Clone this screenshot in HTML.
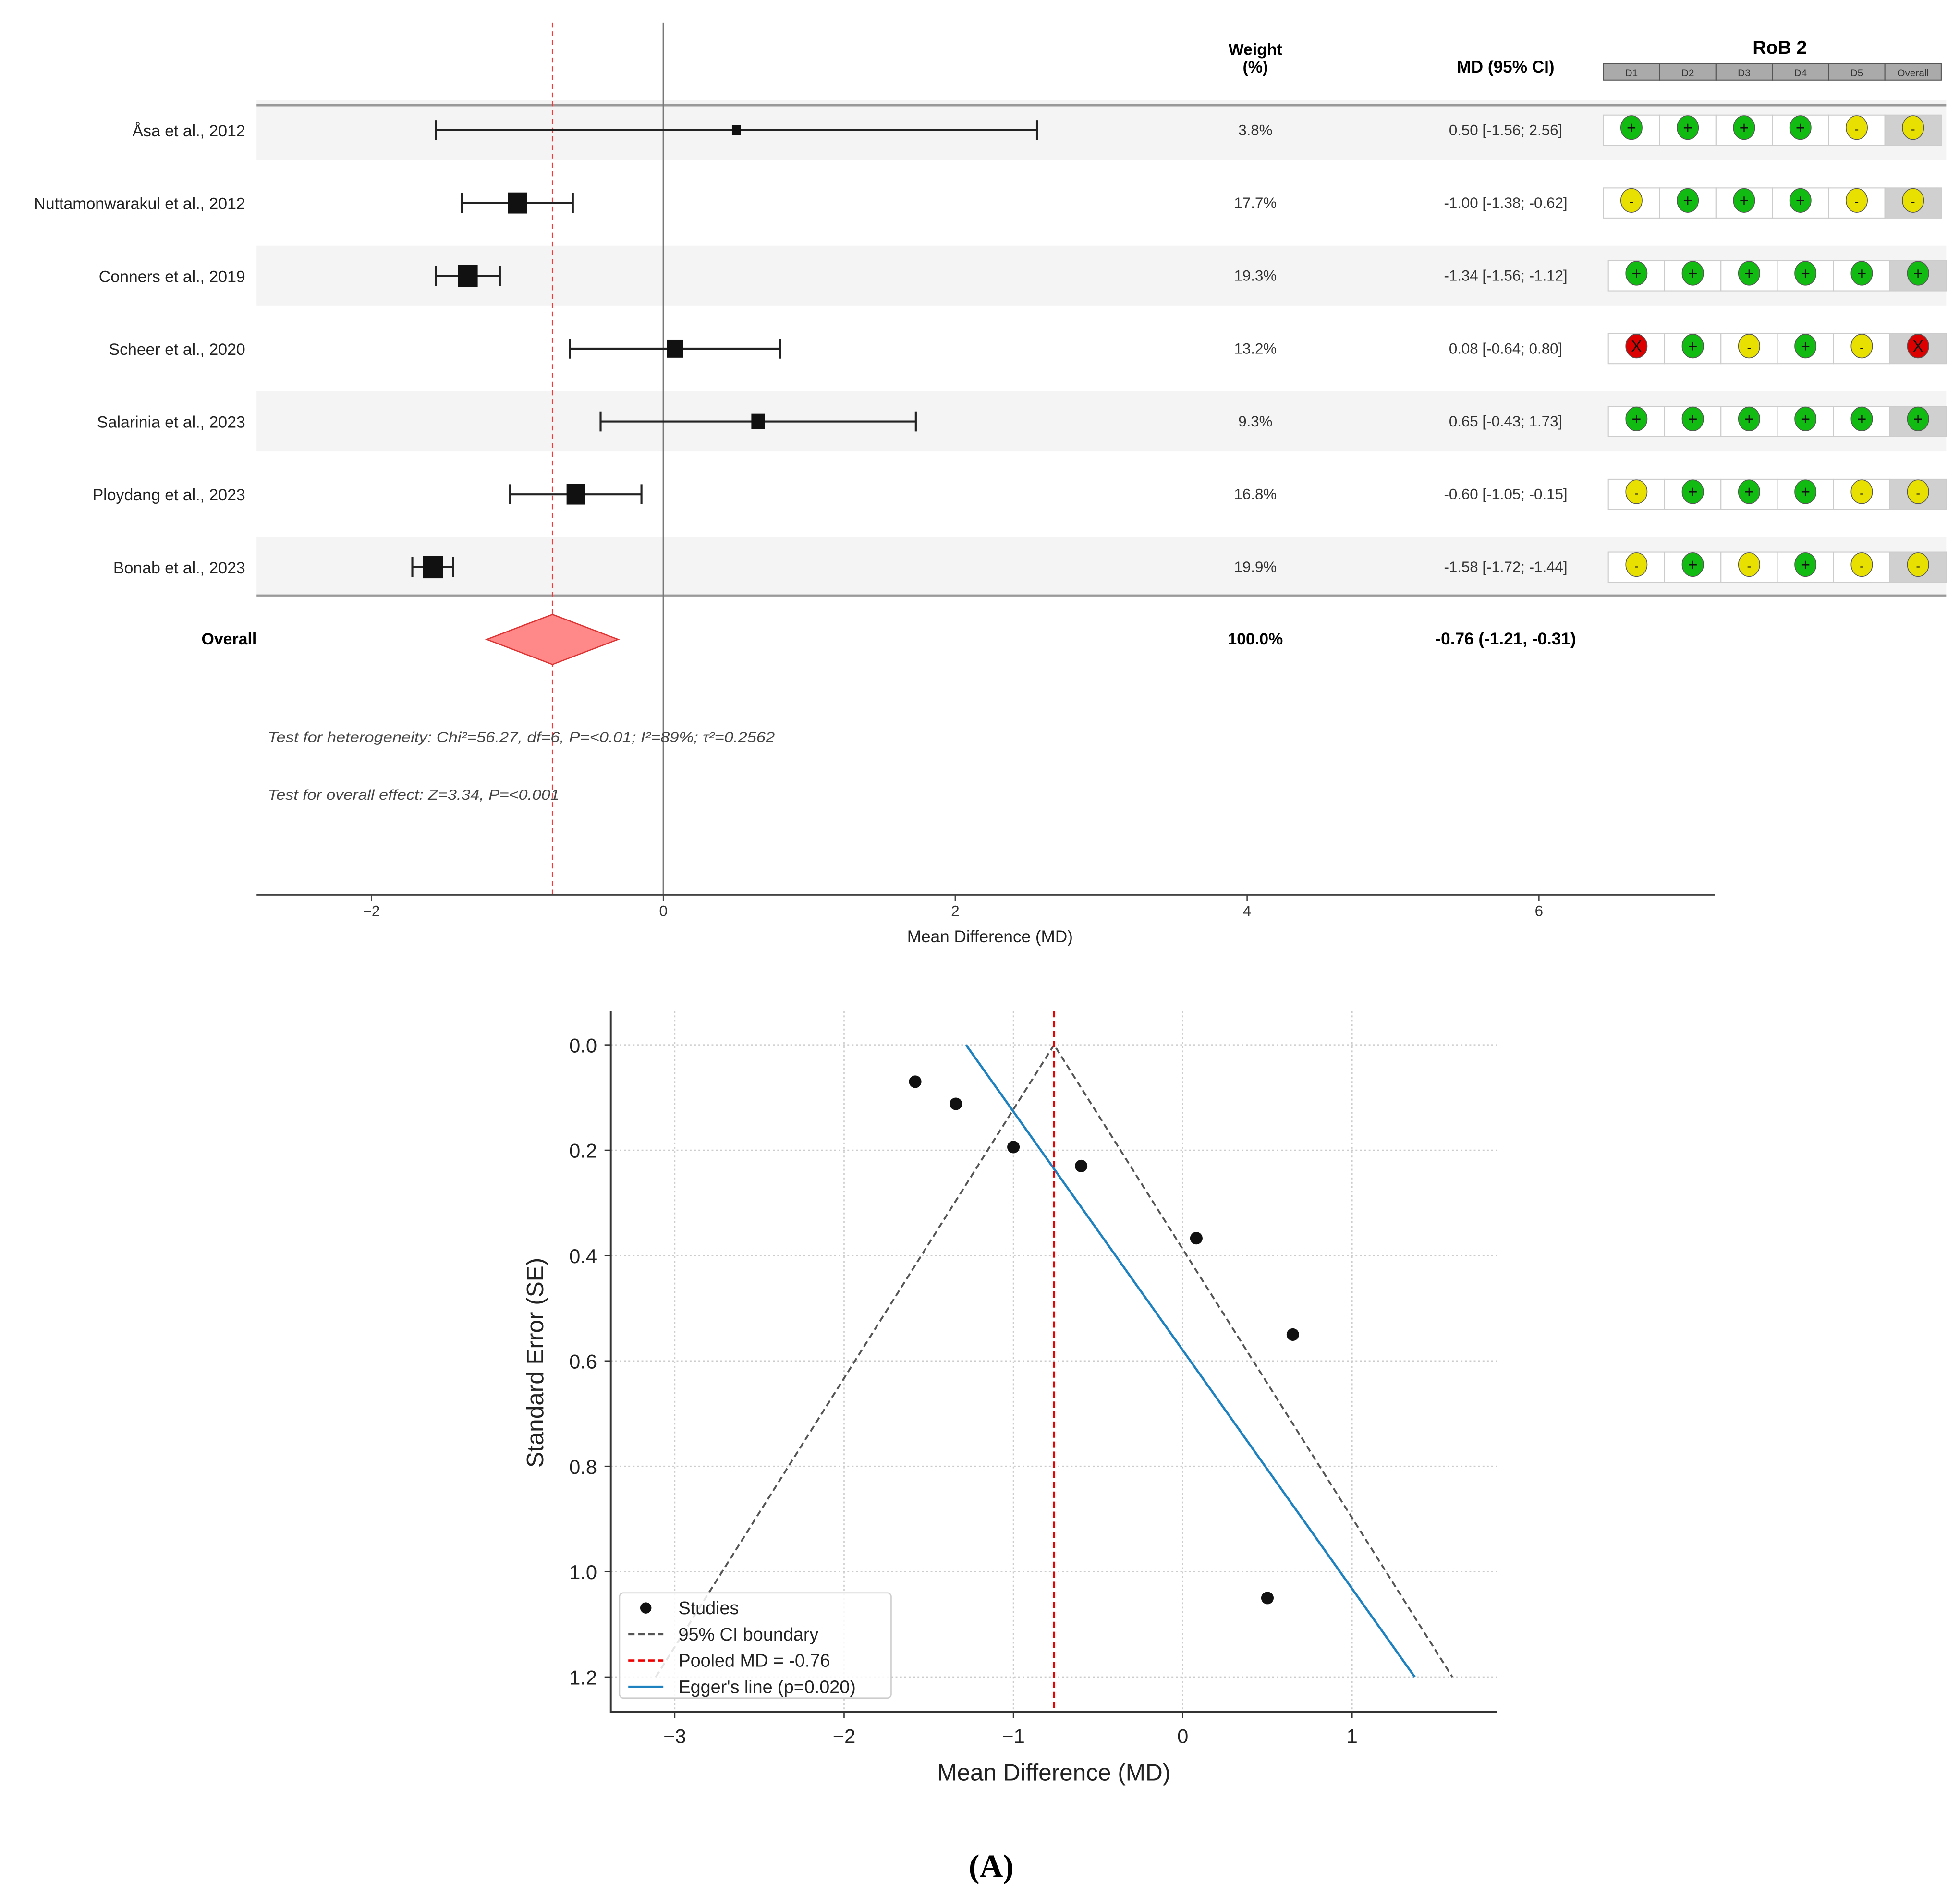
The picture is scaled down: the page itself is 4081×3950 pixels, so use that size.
<!DOCTYPE html>
<html><head><meta charset="utf-8"><style>
html,body{margin:0;padding:0;background:#fff;}
svg{display:block;}
text{font-family:"Liberation Sans","DejaVu Sans",sans-serif;}
</style></head><body>
<svg id="fig" width="4081" height="3950" viewBox="0 0 1566 1516" preserveAspectRatio="none" xmlns="http://www.w3.org/2000/svg">
<g id="forest"></g>
<g id="funnel"></g>
<text x="792" y="1500" text-anchor="middle" font-size="26" font-weight="bold" style="font-family:'Liberation Serif',serif">(A)</text>
</svg>
<script>
const studies = ["Åsa et al., 2012","Nuttamonwarakul et al., 2012","Conners et al., 2019","Scheer et al., 2020","Salarinia et al., 2023","Ploydang et al., 2023","Bonab et al., 2023"];
const md = [0.50,-1.00,-1.34,0.08,0.65,-0.60,-1.58];
const lo = [-1.56,-1.38,-1.56,-0.64,-0.43,-1.05,-1.72];
const hi = [2.56,-0.62,-1.12,0.80,1.73,-0.15,-1.44];
const weights = [3.8,17.7,19.3,13.2,9.3,16.8,19.9];
const rob = [["+","+","+","+","-","-"],["-","+","+","+","-","-"],["+","+","+","+","+","+"],["x","+","-","+","-","x"],["+","+","+","+","+","+"],["-","+","+","+","-","-"],["-","+","-","+","-","-"]];
const robDomains = ["D1","D2","D3","D4","D5","Overall"];
const pooled = -0.76, pooledLo = -1.21, pooledHi = -0.31;
const forestTicks = [-2,0,2,4,6];
const se = [1.05,0.194,0.112,0.367,0.55,0.23,0.07];
const funnelXTicks = [-3,-2,-1,0,1];
const funnelYTicks = [0.0,0.2,0.4,0.6,0.8,1.0,1.2];
const eggerStart = [-1.28,0.0], eggerEnd = [1.37,1.2];
const seMax = 1.2;

const NS="http://www.w3.org/2000/svg";
function mk(parent,tag,attrs,txt){const e=document.createElementNS(NS,tag);for(const k in attrs)e.setAttribute(k,attrs[k]);if(txt!==undefined)e.textContent=txt;parent.appendChild(e);return e;}
const F=document.getElementById('forest');
const fx=v=>530+v*116.6;
const rowY=i=>104+i*58.2;
for(let i=0;i<studies.length;i+=2){const r=mk(F,'rect',{x:205,y:rowY(i)-24,width:1350,height:48,fill:'#f4f4f4'});

}
let l;
l=mk(F,'line',{x1:205,y1:84,x2:1555,y2:84,stroke:'#999','stroke-width':2});


l=mk(F,'line',{x1:205,y1:476,x2:1555,y2:476,stroke:'#999','stroke-width':2});


l=mk(F,'line',{x1:fx(0),y1:18,x2:fx(0),y2:715,stroke:'#777','stroke-width':1.2});


l=mk(F,'line',{x1:fx(pooled),y1:18,x2:fx(pooled),y2:715,stroke:'#f33','stroke-width':1,'stroke-dasharray':'4,3'});


let t;
t=mk(F,'text',{x:1003,y:44,'text-anchor':'middle','font-size':13,'font-weight':'bold'},'Weight');


t=mk(F,'text',{x:1003,y:58,'text-anchor':'middle','font-size':13,'font-weight':'bold'},'(%)');


t=mk(F,'text',{x:1203,y:58,'text-anchor':'middle','font-size':13.5,'font-weight':'bold'},'MD (95% CI)');


t=mk(F,'text',{x:1422,y:43,'text-anchor':'middle','font-size':15,'font-weight':'bold'},'RoB 2');


robDomains.forEach((d,j)=>{const x=1281+j*45;
const r=mk(F,'rect',{x:x,y:51,width:45,height:13,fill:'#aaa',stroke:'#555','stroke-width':0.8});


const tt=mk(F,'text',{x:x+22.5,y:61,'text-anchor':'middle','font-size':8,fill:'#333'},d);

});
const colors={'+':'#11bb11','-':'#e8e000','x':'#dd0000'};
studies.forEach((s,i)=>{const y=rowY(i);
const lab=mk(F,'text',{x:196,y:y+5,'text-anchor':'end','font-size':13,fill:'#222'},s);


const ci=mk(F,'path',{d:`M${fx(lo[i])},${y}H${fx(hi[i])}M${fx(lo[i])},${y-8}V${y+8}M${fx(hi[i])},${y-8}V${y+8}`,stroke:'#222','stroke-width':1.6,fill:'none'});


const sz=4*Math.sqrt(weights[i]);
const sq=mk(F,'rect',{x:fx(md[i])-sz*0.45,y:y-sz/2,width:sz*0.9,height:sz,fill:'#111'});


const w=mk(F,'text',{x:1003,y:y+4,'text-anchor':'middle','font-size':12,fill:'#333'},weights[i].toFixed(1)+'%');


const m=mk(F,'text',{x:1203,y:y+4,'text-anchor':'middle','font-size':12,fill:'#333'},`${md[i].toFixed(2)} [${lo[i].toFixed(2)}; ${hi[i].toFixed(2)}]`);


const bx=i<2?1281:1285;
rob[i].forEach((v,j)=>{const cx=bx+j*45;
const c=mk(F,'rect',{x:cx,y:y-12,width:45,height:24,fill:j==5?'#d0d0d0':'#fff',stroke:'#ccc','stroke-width':0.8});


const e=mk(F,'ellipse',{cx:cx+22.5,cy:y-2,rx:8.5,ry:9.5,fill:colors[v],stroke:'#555','stroke-width':0.6});


const g=mk(F,'text',{x:cx+22.5,y:y+2.5,'text-anchor':'middle','font-size':v=='-'?10:13,fill:'#111'},v=='x'?'X':v);

});
});
t=mk(F,'text',{x:183,y:515,'text-anchor':'middle','font-size':13,'font-weight':'bold'},'Overall');


const dm=mk(F,'polygon',{points:`${fx(pooledLo)},511 ${fx(pooled)},491 ${fx(pooledHi)},511 ${fx(pooled)},531`,fill:'#f88','stroke':'#d33','stroke-width':1});


t=mk(F,'text',{x:1003,y:515,'text-anchor':'middle','font-size':13,'font-weight':'bold'},'100.0%');


t=mk(F,'text',{x:1203,y:515,'text-anchor':'middle','font-size':13.5,'font-weight':'bold'},`${pooled.toFixed(2)} (${pooledLo.toFixed(2)}, ${pooledHi.toFixed(2)})`);


t=mk(F,'text',{x:214,y:593,'font-size':11.5,'font-style':'italic',fill:'#444',textLength:405,lengthAdjust:'spacingAndGlyphs'},'Test for heterogeneity: Chi²=56.27, df=6, P=<0.01; I²=89%; τ²=0.2562');


t=mk(F,'text',{x:214,y:639,'font-size':11.5,'font-style':'italic',fill:'#444',textLength:233,lengthAdjust:'spacingAndGlyphs'},'Test for overall effect: Z=3.34, P=<0.001');


l=mk(F,'line',{x1:205,y1:715,x2:1370,y2:715,stroke:'#444','stroke-width':1.5});


forestTicks.forEach(v=>{const tk=mk(F,'line',{x1:fx(v),y1:715,x2:fx(v),y2:720,stroke:'#444'});


const tl=mk(F,'text',{x:fx(v),y:732,'text-anchor':'middle','font-size':12,fill:'#333'},v<0?'−'+Math.abs(v):String(v));

});
t=mk(F,'text',{x:791,y:753,'text-anchor':'middle','font-size':13.5,fill:'#222'},'Mean Difference (MD)');



const P=document.getElementById('funnel');
const ux=v=>945+v*135.3, uy=v=>835+v*421;
funnelYTicks.forEach(v=>{const g=mk(P,'line',{x1:488,y1:uy(v),x2:1196,y2:uy(v),stroke:'#ccc','stroke-dasharray':'1.5,2','stroke-width':1});


const tl=mk(P,'text',{x:477,y:uy(v)+6,'text-anchor':'end','font-size':16,fill:'#222'},v.toFixed(1));


const tk=mk(P,'line',{x1:483,y1:uy(v),x2:488,y2:uy(v),stroke:'#333'});

});
funnelXTicks.forEach(v=>{const g=mk(P,'line',{x1:ux(v),y1:808,x2:ux(v),y2:1368,stroke:'#ccc','stroke-dasharray':'1.5,2','stroke-width':1});


const tl=mk(P,'text',{x:ux(v),y:1393,'text-anchor':'middle','font-size':16,fill:'#222'},v<0?'−'+Math.abs(v):String(v));


const tk=mk(P,'line',{x1:ux(v),y1:1368,x2:ux(v),y2:1373,stroke:'#333'});

});
const ci95=mk(P,'polyline',{points:`${ux(pooled-1.96*seMax)},${uy(seMax)} ${ux(pooled)},${uy(0)} ${ux(pooled+1.96*seMax)},${uy(seMax)}`,fill:'none',stroke:'#555','stroke-width':1.5,'stroke-dasharray':'5,3'});


const eg=mk(P,'line',{x1:ux(eggerStart[0]),y1:uy(eggerStart[1]),x2:ux(eggerEnd[0]),y2:uy(eggerEnd[1]),stroke:'#1f82c0','stroke-width':1.8});


const pl=mk(P,'line',{x1:ux(pooled),y1:808,x2:ux(pooled),y2:1368,stroke:'#e00','stroke-width':1.8,'stroke-dasharray':'5,3'});


md.forEach((v,i)=>{const c=mk(P,'circle',{cx:ux(v),cy:uy(se[i]),r:5,fill:'#111'});

});
l=mk(P,'path',{d:'M488,808V1368H1196',stroke:'#333','stroke-width':1.5,fill:'none'});


t=mk(P,'text',{x:842,y:1423,'text-anchor':'middle','font-size':19,fill:'#222'},'Mean Difference (MD)');


t=mk(P,'text',{x:0,y:0,'text-anchor':'middle','font-size':19,fill:'#222',transform:'translate(434,1089) rotate(-90)'},'Standard Error (SE)');


const lg=mk(P,'rect',{x:495,y:1273,width:217,height:84,fill:'#fff','fill-opacity':0.85,stroke:'#ccc',rx:3});


const items=[['Studies','dot'],['95% CI boundary','#555'],['Pooled MD = -0.76','#e00'],["Egger's line (p=0.020)",'#1f82c0']];
items.forEach((it,k)=>{const y=1285+k*21;
if(it[1]=='dot'){const d=mk(P,'circle',{cx:516,cy:y,r:4.5,fill:'#111'});

}
else{const d=mk(P,'line',{x1:502,y1:y,x2:530,y2:y,stroke:it[1],'stroke-width':1.8,'stroke-dasharray':k==3?'none':'5,3'});

}
const lt=mk(P,'text',{x:542,y:y+5,'font-size':14.5,fill:'#222'},it[0]);

});
</script>
</body></html>
